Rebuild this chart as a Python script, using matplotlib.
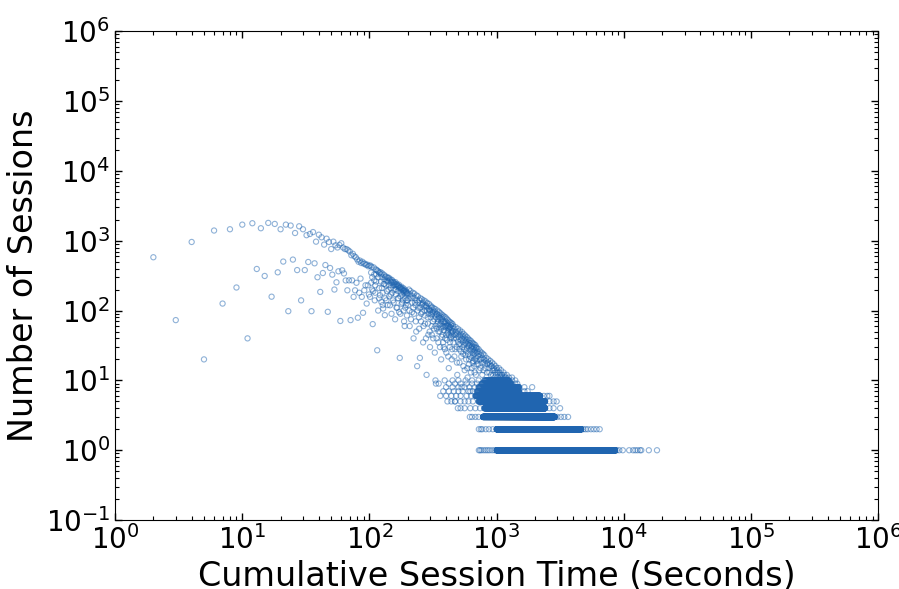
import matplotlib
matplotlib.use('Agg')
import matplotlib.pyplot as plt
import numpy as np

# sessions per cumulative time (seconds)
head_x = [2, 3, 4, 5, 6, 7, 8, 9, 10, 11, 12, 13, 14, 15, 16, 17, 18, 19, 20,
          21, 22, 23, 24, 25, 26, 27, 28, 29, 30, 31, 32, 33, 34, 35, 36, 37,
          38, 39, 40, 41, 42, 43, 44, 45, 46, 47, 48, 49, 50, 51, 52, 53, 54, 55]
head_y = [580, 73, 960, 20, 1400, 126, 1460, 214, 1700, 40, 1780, 394, 1510,
          313, 1800, 158, 1740, 353, 1460, 503, 1700, 98, 1650, 537, 1290, 380,
          1610, 140, 1460, 380, 1200, 496, 1250, 98, 1330, 475, 970, 300, 1220,
          185, 1120, 345, 880, 449, 1070, 96, 960, 407, 760, 327, 970, 200, 860,
          254]

# upper ridge and scatter of the cloud
cloud_x = [56, 57, 58, 59, 60, 61, 62, 63, 64, 65, 66, 67, 68, 69, 70, 71, 72,
           73, 74, 75, 76, 77, 78, 79, 80, 81, 82, 83, 84, 85, 86, 87, 88, 89,
           90, 91, 92, 93, 94, 95, 96, 97, 98, 99, 100,
           101, 102, 103, 104, 105, 106, 107, 108, 109, 110, 111, 112, 113,
           114, 115, 116, 117, 118, 119, 120, 121, 122, 123, 124, 125, 126,
           127, 128, 129, 130, 131, 132, 133, 134, 135, 136, 137, 138, 139,
           140, 141, 142, 143, 144, 145, 146, 147, 148, 149, 150, 151, 152,
           153, 154, 155, 156, 157, 158, 159, 160, 161, 162, 163, 164, 165,
           166, 167, 168, 169, 170, 171, 172, 173, 174, 175, 176, 177, 178,
           179, 180, 181, 182, 183, 184, 185, 186, 187, 188, 189, 190, 191,
           192, 193, 194, 195, 196, 197, 198, 199,
           201, 204, 207, 210, 213, 216, 219, 222, 225, 228, 231, 234, 237,
           240, 243, 246, 249, 252, 255, 258, 261, 264, 267, 270, 273, 276,
           279, 281, 284, 287, 290, 293, 296, 299, 302, 305, 308, 311, 314,
           317, 320, 323, 326, 329, 333, 336, 339, 342, 345, 348, 351, 354,
           357, 360, 363, 366, 369, 372, 375, 378, 381, 384, 387, 390, 393,
           396, 399, 402, 405, 408, 411, 414, 417, 420, 423, 426, 429, 432,
           435, 438, 441, 444, 447, 450,
           455, 460, 465, 470, 475, 480, 485, 490, 495, 500, 505, 510, 515,
           520, 525, 530, 535, 540, 545, 550, 555, 560, 565, 570, 575, 580,
           585, 590, 595, 600, 605, 610, 615, 620, 625, 630, 635, 640, 645,
           650, 655, 660, 665, 670, 675, 680, 685, 690, 695, 700, 710, 720,
           730, 740, 750, 760, 770, 780, 790, 800, 815, 830, 845, 860, 875,
           890, 905, 920, 935, 950, 965, 980, 1000, 1020, 1040, 1060, 1080,
           1100, 1130, 1160, 1200, 1250, 1320]
cloud_y = [800, 365, 870, 71, 920, 377, 800, 340, 760, 270, 760, 195, 730, 271,
           700, 73, 620, 271, 650, 157, 600, 195, 580, 250, 540, 79, 500, 180,
           520, 287, 480, 157, 500, 93, 470, 195, 470, 230, 450, 126, 455, 230,
           430, 170, 440,
           157, 440, 250, 420, 300, 64, 190, 415, 270, 140, 230, 390, 330, 380,
           27, 370, 100, 360, 210, 345, 166, 355, 260, 133, 300, 340, 180, 107,
           240, 325, 280, 86, 150, 310, 230, 140, 270, 300, 120, 290, 200, 295,
           160, 270, 119, 280, 210, 260, 90, 275, 180, 255, 230, 260, 130, 250,
           200, 240, 75, 255, 170, 235, 220, 240, 110, 230, 190, 225, 150, 235,
           95, 220, 21, 215, 160, 210, 200, 220, 125, 205, 170, 200, 140, 210,
           100, 195, 180, 190, 60, 200, 150, 185, 120, 190, 170, 180, 85, 175,
           140,
           120, 200, 60, 190, 150, 95, 180, 40, 175, 130, 70, 165, 16, 160, 110,
           55, 21, 150, 90, 145, 125, 35, 140, 100, 65, 135, 115, 12, 128, 80,
           45, 125, 100, 30, 118, 88, 60, 112, 95, 40, 108, 75, 25, 105, 9, 90,
           55, 100, 70, 35, 96, 80, 50, 92, 65, 20, 88, 75, 45, 85, 58, 30, 82,
           68, 40, 80, 60, 25, 76, 62, 48, 73, 55, 15, 70, 58, 35, 68, 52, 42,
           66, 50, 28, 64,
           60, 40, 22, 5, 58, 45, 30, 12, 55, 42, 33, 18, 52, 38, 26, 8, 49, 36,
           24, 46, 32, 14, 44, 34, 20, 42, 29, 11, 40, 31, 17, 38, 27, 7, 37, 28,
           15, 35, 25, 34, 19, 26, 33, 13, 24, 32, 21, 30, 17, 29, 22, 28, 14,
           26, 20, 25, 12, 24, 18, 23, 15, 21, 17, 20, 13, 19, 16, 18, 12, 17,
           14, 16, 15, 13, 15, 12, 14, 12, 13, 11, 12, 11, 11]

# denser core under the ridge
core_x = [103, 105, 109, 111, 113, 117, 119, 123, 125, 127, 131, 133, 137, 139,
          143, 147, 149, 153, 157, 161, 163, 167, 171, 175, 177, 181, 185, 187,
          191, 195, 199,
          203, 206, 209, 212, 215, 218, 221, 224, 227, 230, 233, 236, 239, 242,
          245, 248, 251, 254, 257, 260, 263, 266, 269, 272, 275, 278, 282, 285,
          288, 291, 294, 297, 300, 303, 306, 309, 312, 315, 318, 321, 324, 327,
          330, 334, 337, 340, 343, 346, 349, 352, 355, 358, 361, 364, 367, 370,
          373, 376, 379, 382, 385, 388, 391, 394, 397, 400, 404, 407, 410, 413,
          416, 419, 422, 425, 428, 431, 434, 437, 440, 443, 446, 449,
          452, 457, 462, 467, 472, 477, 482, 487, 492, 497, 502, 507, 512, 517,
          522, 527, 532, 537, 542, 547, 552, 557, 562, 567, 572, 577, 582, 587,
          592, 597, 602, 607, 612, 617, 622, 627, 632, 637, 642, 647, 652, 657,
          662, 667, 672, 677, 682, 687, 692, 697, 705, 715, 725, 735, 745, 755,
          765, 775, 785, 795, 810, 825, 840, 855, 870, 885, 900, 915, 930, 945,
          960, 975, 990, 1010, 1030, 1050, 1070, 1090, 1120, 1150, 1180]
core_y = [350, 200, 330, 180, 260, 300, 150, 330, 210, 120, 240, 300, 190, 260,
          230, 170, 250, 140, 230, 200, 110, 150, 210, 90, 180, 130, 190, 70,
          110, 140, 180,
          150, 100, 170, 75, 130, 160, 110, 90, 150, 120, 50, 140, 100, 130, 80,
          140, 110, 70, 120, 95, 130, 60, 115, 85, 120, 40, 100, 110, 65, 90,
          105, 50, 100, 80, 110, 45, 90, 70, 100, 55, 85, 95, 60, 80, 40, 88,
          65, 75, 50, 85, 62, 30, 78, 55, 70, 42, 80, 60, 35, 70, 52, 65, 28,
          58, 70, 45, 60, 38, 66, 50, 22, 60, 45, 55, 30, 58, 40, 62, 48, 20,
          55, 44,
          50, 35, 55, 45, 28, 50, 40, 18, 47, 36, 50, 28, 44, 33, 46, 22, 40, 30,
          43, 16, 38, 28, 40, 23, 36, 26, 38, 15, 33, 24, 35, 20, 32, 22, 34,
          13, 30, 21, 31, 18, 28, 23, 30, 16, 27, 20, 29, 12, 25, 19, 26, 17,
          24, 20, 15, 23, 18, 21, 14, 20, 17, 19, 13, 18, 15, 17, 12, 16, 14,
          15, 11, 13, 12, 14, 11, 13, 11, 12, 11, 12, 11]

# low counts form runs along integer seconds
row_level = [1, 2, 3, 4, 5, 6, 7, 8, 9, 10]
row_start = [1000, 1000, 780, 800, 720, 680, 700, 720, 760, 800]
row_end = [8500, 4600, 2850, 2400, 2400, 2200, 1500, 1500, 1300, 1250]
row_step = [1, 1, 1, 2, 3, 3, 4, 5, 5, 6]

# scattered points at the ends of the runs
edge_x = [724, 740, 760, 790, 820, 850, 880, 920, 960, 8800, 9200, 9800,
          11000, 11800, 12300, 12800, 13400, 13700, 15700, 18200,
          724, 750, 770, 820, 870, 930, 4800, 5000, 5200, 5500, 5800, 6100,
          6450,
          615, 640, 680, 720, 3000, 3200, 3400, 3640,
          495, 520, 560, 620, 680, 740, 2600, 2800, 3150,
          410, 440, 470, 520, 560, 600, 650, 2600, 2800, 2960,
          360, 400, 440, 480, 520, 580, 630, 2350, 2500, 2600,
          380, 420, 460, 500, 540, 600, 650, 1650, 1750,
          400, 450, 500, 560, 610, 670, 1650, 1900,
          350, 420, 470, 520, 580, 640, 700, 1400, 1450,
          330, 390, 450, 500, 570, 640, 720, 1320, 1400]
edge_y = [1] * 20 + [2] * 13 + [3] * 8 + [4] * 9 + [5] * 10 + [6] * 10 + \
         [7] * 9 + [8] * 8 + [9] * 9 + [10] * 9

run_x = np.concatenate([np.arange(s, e + 1, st) for s, e, st in
                        zip(row_start, row_end, row_step)])
run_y = np.concatenate([np.full(len(np.arange(s, e + 1, st)), lv) for lv, s, e, st
                        in zip(row_level, row_start, row_end, row_step)])

all_x = np.concatenate([head_x, cloud_x, core_x, edge_x, run_x])
all_y = np.concatenate([head_y, cloud_y, core_y, edge_y, run_y])

plt.rcParams['axes.unicode_minus'] = False
fig = plt.figure(figsize=(8.99, 5.89), dpi=100)
ax = fig.add_axes([0.128, 0.117, 0.849, 0.830])

ax.scatter(all_x, all_y, s=14, facecolors='none', edgecolors='#2065b0',
           linewidths=0.8, alpha=0.5)

ax.set_xscale('log')
ax.set_yscale('log')
ax.set_xlim(1, 1e6)
ax.set_ylim(0.1, 1e6)

ax.set_xlabel('Cumulative Session Time (Seconds)', fontsize=24)
ax.set_ylabel('Number of Sessions', fontsize=24)
ax.tick_params(which='both', direction='in', top=True, right=True,
               labelsize=20)
ax.tick_params(which='major', length=5, width=1)
ax.tick_params(which='minor', length=3, width=0.8)

plt.savefig('out.png')
plt.close()
